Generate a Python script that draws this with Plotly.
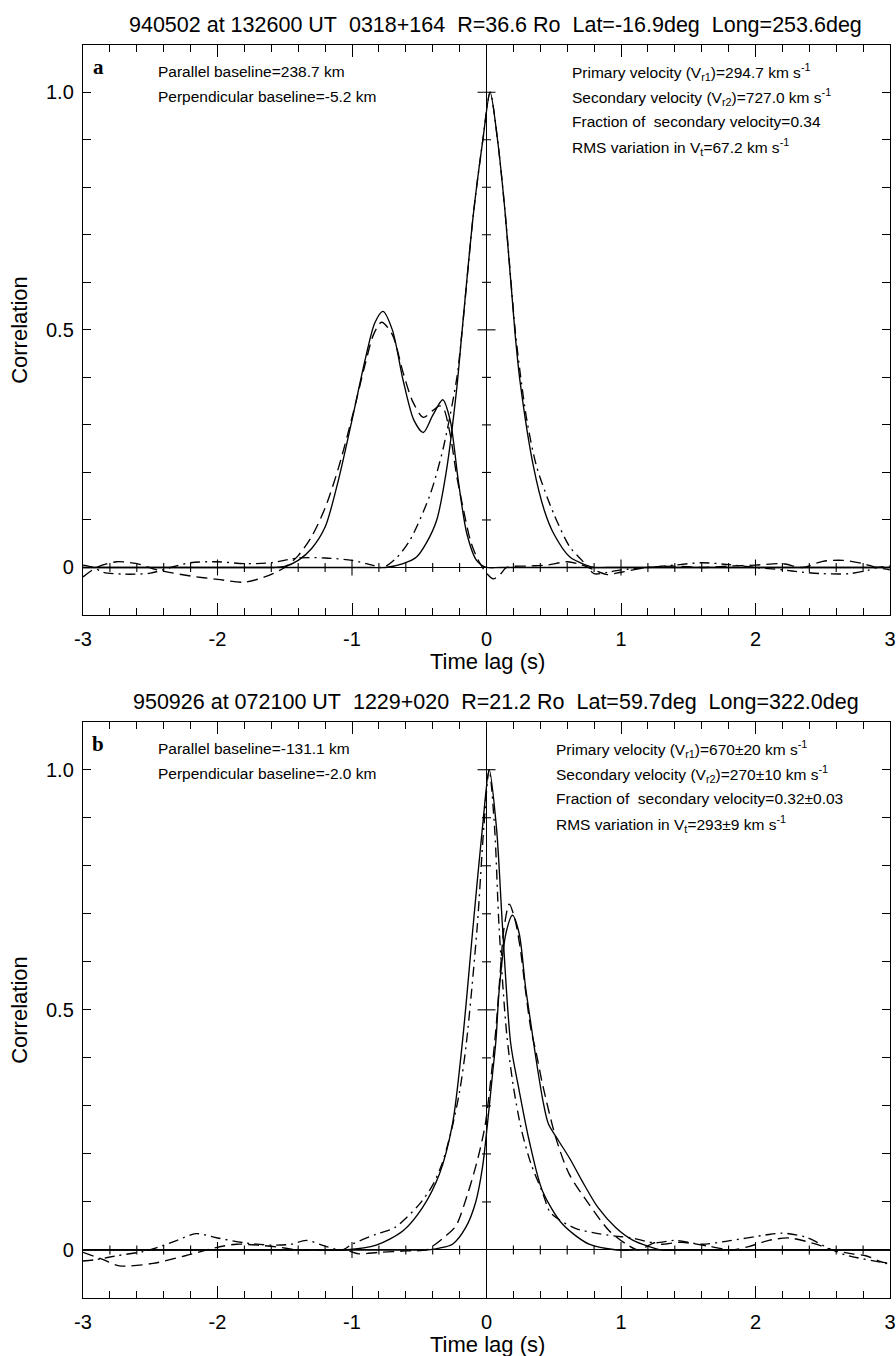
import numpy as np
import plotly.graph_objects as go

W, H = 896, 1356

# ---------------- Panel a data ----------------
a_cross_obs_x = [-3.0, -2.9, -2.75, -2.6, -2.45, -2.2, -2.0, -1.8, -1.65, -1.5, -1.4, -1.3, -1.2, -1.1, -1.0, -0.9,
                 -0.84, -0.78, -0.7, -0.62, -0.55, -0.47, -0.4, -0.35, -0.32, -0.27, -0.22, -0.17, -0.12, -0.07, -0.03,
                 0.0, 0.05, 0.1, 0.15, 0.3, 0.45, 0.6, 0.7, 0.8, 0.9, 1.0, 1.2, 1.4, 1.6, 1.8, 2.0, 2.2, 2.35, 2.5,
                 2.65, 2.8, 2.9, 3.0]
a_cross_obs_y = [-0.02, 0.0, 0.012, 0.008, -0.005, -0.018, -0.025, -0.031, -0.02, 0.0, 0.025, 0.065, 0.125, 0.21, 0.315,
                 0.43, 0.49, 0.516, 0.49, 0.41, 0.35, 0.316, 0.33, 0.34, 0.335, 0.28, 0.19, 0.12, 0.057, 0.02, 0.0,
                 -0.012, -0.024, -0.015, 0.0, 0.003, 0.005, 0.012, 0.006, -0.005, -0.015, -0.01, 0.0, 0.003, 0.0, 0.003,
                 0.005, 0.008, 0.0, 0.013, 0.015, 0.008, 0.0, -0.005]

a_cross_mod_x = [-3.0, -2.0, -1.7, -1.58, -1.5, -1.4, -1.3, -1.2, -1.1, -1.0, -0.9, -0.83, -0.77, -0.7, -0.62, -0.54,
                 -0.47, -0.4, -0.325, -0.27, -0.21, -0.146, -0.074, 0.0, 0.1, 0.3, 1.0, 2.0, 3.0]
a_cross_mod_y = [0.0, 0.0, 0.0, 0.0, 0.002, 0.015, 0.04, 0.085, 0.185, 0.31, 0.44, 0.515, 0.539, 0.5, 0.394, 0.31,
                 0.284, 0.32, 0.353, 0.31, 0.183, 0.071, 0.015, 0.0, 0.0, 0.0, 0.0, 0.0, 0.0]

a_auto_obs_x = [-3.0, -2.92, -2.85, -2.7, -2.5, -2.35, -2.2, -2.0, -1.8, -1.6, -1.4, -1.2, -1.0, -0.85, -0.77,
                -0.67, -0.57, -0.42, -0.32, -0.22, -0.184, -0.097, -0.027, 0.027, 0.082, 0.139, 0.213, 0.25, 0.3,
                0.374, 0.5, 0.62, 0.71, 0.8, 0.9, 1.0, 1.2, 1.4, 1.6, 1.8, 2.0, 2.2, 2.35, 2.5, 2.7, 2.85, 2.9, 3.0]
a_auto_obs_y = [0.005, 0.0, -0.01, -0.014, -0.012, 0.0, 0.01, 0.012, 0.008, 0.01, 0.02, 0.02, 0.015, 0.005, 0.0,
                0.02, 0.057, 0.153, 0.253, 0.40, 0.49, 0.745, 0.90, 1.0, 0.90, 0.745, 0.50, 0.41, 0.31,
                0.211, 0.113, 0.043, 0.015, -0.013, -0.01, -0.005, 0.0, 0.005, 0.01, 0.006, 0.0, -0.005, -0.01, -0.013,
                -0.013, -0.005, 0.0, 0.003]

a_auto_mod_x = [-3.0, -1.5, -1.0, -0.85, -0.75, -0.62, -0.52, -0.45, -0.37, -0.3, -0.22, -0.184, -0.097, -0.027, 0.027,
                0.082, 0.139, 0.213, 0.25, 0.35, 0.43, 0.5, 0.62, 0.74, 0.8, 0.9, 1.1, 2.0, 3.0]
a_auto_mod_y = [0.0, 0.0, 0.0, 0.0, 0.0, 0.008, 0.022, 0.05, 0.10, 0.20, 0.38, 0.49, 0.745, 0.90, 1.0,
                0.90, 0.745, 0.49, 0.39, 0.211, 0.12, 0.071, 0.022, 0.005, 0.0, 0.0, 0.0, 0.0, 0.0]

# ---------------- Panel b data ----------------
b_cross_obs_x = [-3.0, -2.85, -2.73, -2.48, -2.24, -2.01, -1.86, -1.7, -1.55, -1.4, -1.2, -1.05, -0.95, -0.8, -0.6,
                 -0.45, -0.38, -0.3, -0.228, -0.141, -0.062, -0.01, 0.03, 0.07, 0.1, 0.13, 0.169, 0.21, 0.25, 0.29,
                 0.33, 0.37, 0.416, 0.515, 0.615, 0.763, 0.912, 1.04, 1.13, 1.25, 1.3, 1.45, 1.65, 1.82, 1.95, 2.1,
                 2.25, 2.45, 2.57, 2.72, 2.82, 2.95, 3.0]
b_cross_obs_y = [-0.005, -0.02, -0.033, -0.028, -0.012, 0.005, 0.012, 0.01, 0.006, 0.0, 0.0, 0.0, -0.008, -0.005, -0.002,
                 0.0, 0.012, 0.03, 0.05, 0.116, 0.193, 0.26, 0.35, 0.46, 0.57, 0.67, 0.72, 0.69, 0.63, 0.54,
                 0.46, 0.41, 0.346, 0.234, 0.158, 0.095, 0.04, 0.012, 0.0, 0.015, 0.012, 0.016, 0.008, 0.0, 0.007, 0.02,
                 0.025, 0.012, 0.0, -0.008, -0.012, -0.026, -0.028]

b_cross_mod_x = [-3.0, -2.0, -1.0, -0.6, -0.45, -0.35, -0.253, -0.154, -0.08, -0.03, 0.007, 0.045, 0.07, 0.094, 0.144,
                 0.193, 0.243, 0.29, 0.33, 0.367, 0.42, 0.46, 0.535, 0.62, 0.71, 0.83, 0.96, 1.09, 1.2, 1.3, 1.5,
                 2.0, 3.0]
b_cross_mod_y = [0.0, 0.0, 0.0, 0.0, 0.0, 0.004, 0.012, 0.047, 0.10, 0.172, 0.262, 0.367, 0.436, 0.54, 0.659,
                 0.697, 0.659, 0.548, 0.471, 0.40, 0.31, 0.263, 0.228, 0.19, 0.144, 0.088, 0.047, 0.02, 0.008, 0.0, 0.0,
                 0.0, 0.0]

b_auto_obs_x = [-3.0, -2.9, -2.75, -2.55, -2.45, -2.3, -2.16, -2.0, -1.8, -1.6, -1.45, -1.34, -1.2, -1.07, -1.0,
                -0.82, -0.68, -0.5, -0.4, -0.33, -0.26, -0.2, -0.15, -0.07, -0.02, 0.02, 0.06, 0.094, 0.15, 0.2,
                0.26, 0.33, 0.416, 0.47, 0.53, 0.66, 0.81, 0.957, 1.08, 1.25, 1.4, 1.6, 1.8, 2.07, 2.2, 2.37, 2.57,
                2.69, 2.94, 3.0]
b_auto_obs_y = [-0.023, -0.02, -0.012, -0.003, 0.005, 0.02, 0.034, 0.025, 0.015, 0.01, 0.012, 0.02, 0.008, 0.0, 0.012,
                0.033, 0.047, 0.095, 0.135, 0.18, 0.25, 0.33, 0.43, 0.67, 0.88, 1.0, 0.88, 0.67, 0.45, 0.34,
                0.25, 0.18, 0.12, 0.08, 0.065, 0.045, 0.035, 0.029, 0.025, 0.015, 0.02, 0.012, 0.019, 0.031, 0.035, 0.027,
                0.0, -0.012, -0.026, -0.03]

b_auto_mod_x = [-3.0, -2.0, -1.3, -1.05, -0.82, -0.62, -0.476, -0.35, -0.253, -0.178, -0.10, -0.03, 0.02, 0.074, 0.119,
                0.18, 0.243, 0.317, 0.416, 0.565, 0.763, 0.97, 1.2, 2.0, 3.0]
b_auto_mod_y = [0.0, 0.0, 0.0, 0.0, 0.01, 0.04, 0.088, 0.158, 0.262, 0.436, 0.673, 0.88, 1.0, 0.88, 0.673,
                0.43, 0.332, 0.228, 0.123, 0.054, 0.012, 0.0, 0.0, 0.0, 0.0]

# ---------------- Texts ----------------
NB = "\u00a0"
title_a = f"940502 at 132600 UT{NB*2}0318+164{NB*2}R=36.6{NB}Ro{NB*2}Lat=-16.9deg{NB*2}Long=253.6deg"
title_b = f"950926 at 072100 UT{NB*2}1229+020{NB*2}R=21.2{NB}Ro{NB*2}Lat=59.7deg{NB*2}Long=322.0deg"
left_a = ["Parallel baseline=238.7 km", "Perpendicular baseline=-5.2 km"]
right_a = ["Primary velocity (V<sub>r1</sub>)=294.7 km s<sup>-1</sup>",
           "Secondary velocity (V<sub>r2</sub>)=727.0 km s<sup>-1</sup>",
           f"Fraction of {NB}secondary velocity=0.34",
           "RMS variation in V<sub>t</sub>=67.2 km s<sup>-1</sup>"]
left_b = ["Parallel baseline=-131.1 km", "Perpendicular baseline=-2.0 km"]
right_b = ["Primary velocity (V<sub>r1</sub>)=670±20 km s<sup>-1</sup>",
           "Secondary velocity (V<sub>r2</sub>)=270±10 km s<sup>-1</sup>",
           f"Fraction of {NB}secondary velocity=0.32±0.03",
           "RMS variation in V<sub>t</sub>=293±9 km s<sup>-1</sup>"]

x_tickvals = [-3, -2, -1, 0, 1, 2, 3]
x_ticktext = ["-3", "-2", "-1", "0", "1", "2", "3"]
y_tickvals = [0, 0.5, 1.0]
y_ticktext = ["0", "0.5", "1.0"]

# ---------------- Layout geometry (pixels) ----------------
X0, X1 = 83, 890
panels = {"a": (44.7, 615.0), "b": (721.7, 1298.0)}

def fx(px):
    return px / W

def fy(py):
    return 1 - py / H

FONT = "Liberation Sans, Arial, sans-serif"
fig = go.Figure()

LW = 1.35
dash_style = "11px,6px"
dashdot_style = "10px,5px,2px,5px"

sets = [
    ("x", "y", a_cross_obs_x, a_cross_obs_y, a_cross_mod_x, a_cross_mod_y,
     a_auto_obs_x, a_auto_obs_y, a_auto_mod_x, a_auto_mod_y),
    ("x2", "y2", b_cross_obs_x, b_cross_obs_y, b_cross_mod_x, b_cross_mod_y,
     b_auto_obs_x, b_auto_obs_y, b_auto_mod_x, b_auto_mod_y),
]
for xa, ya, cox, coy, cmx, cmy, aox, aoy, amx, amy in sets:
    for xs, ys, dash in [(cmx, cmy, "solid"), (amx, amy, "solid"),
                         (cox, coy, dash_style), (aox, aoy, dashdot_style)]:
        fig.add_trace(go.Scatter(x=xs, y=ys, mode="lines", xaxis=xa, yaxis=ya,
                                 line=dict(color="black", width=LW, dash=dash,
                                           shape="spline", smoothing=0.8),
                                 showlegend=False, hoverinfo="skip"))

axis_common = dict(showgrid=False, showline=True, linecolor="black", linewidth=1.4,
                   mirror="ticks", ticks="inside", tickcolor="black",
                   zeroline=True, zerolinecolor="black", zerolinewidth=1.2,
                   tickfont=dict(family=FONT, size=20, color="black"))

layout = dict(width=W, height=H, paper_bgcolor="white", plot_bgcolor="white",
              margin=dict(l=0, r=0, t=0, b=0, autoexpand=False), showlegend=False)
for i, key in enumerate(["a", "b"]):
    top, bot = panels[key]
    sfx = "" if i == 0 else "2"
    layout["xaxis" + sfx] = dict(axis_common, domain=[fx(X0), fx(X1)], range=[-3, 3],
                                 anchor="y" + sfx, tickvals=x_tickvals, ticktext=x_ticktext,
                                 ticklen=12, tickwidth=1.2, ticklabelstandoff=6,
                                 minor=dict(dtick=0.2, ticks="inside", ticklen=7, tickwidth=1.1, tickcolor="black"))
    layout["yaxis" + sfx] = dict(axis_common, domain=[fy(bot), fy(top)], range=[-0.1, 1.1],
                                 anchor="x" + sfx, tickvals=y_tickvals, ticktext=y_ticktext,
                                 ticklen=8, tickwidth=1.2, ticklabelstandoff=4,
                                 minor=dict(dtick=0.1, ticks="inside", ticklen=8, tickwidth=1.1, tickcolor="black"))
fig.update_layout(**layout)

# crossing ticks along zero lines
shapes = []
for sfx in ["", "2"]:
    for t in np.round(np.arange(-2.8, 3.0, 0.2), 1):
        if abs(t) < 1e-9:
            continue
        L = 8 if abs(t - round(t)) < 1e-9 else 4.5
        shapes.append(dict(type="line", xref="x" + sfx, yref="y" + sfx, x0=t, x1=t,
                           ysizemode="pixel", yanchor=0, y0=-L, y1=L,
                           line=dict(color="black", width=1.1)))
    for t in np.round(np.arange(0.1, 1.05, 0.1), 1):
        L = 9 if abs(t * 2 - round(t * 2)) < 1e-9 else 4.5
        shapes.append(dict(type="line", xref="x" + sfx, yref="y" + sfx, y0=t, y1=t,
                           xsizemode="pixel", xanchor=0, x0=-L, x1=L,
                           line=dict(color="black", width=1.1)))
fig.update_layout(shapes=shapes)

ann = []
def text(px, py, s, size, anchor="left", family=FONT, **kw):
    ann.append(dict(x=fx(px), y=fy(py), xref="paper", yref="paper", text=s, showarrow=False,
                    xanchor=anchor, yanchor="middle",
                    font=dict(family=family, size=size, color="black"), **kw))

for key, title, letter, ltxt, rtxt, rx in [("a", title_a, "a", left_a, right_a, 570),
                                           ("b", title_b, "b", left_b, right_b, 554)]:
    top, bot = panels[key]
    text((X0 + X1) / 2 + 9, top - 20, title, 21.5, anchor="center")
    text(98, top + 22, "<b>" + letter + "</b>", 21, anchor="center",
         family="Liberation Serif, Times New Roman, serif")
    for j, s in enumerate(ltxt):
        text(156, top + 27 + 25 * j, s, 15.5)
    for j, s in enumerate(rtxt):
        text(rx, top + 27 + 25 * j, s, 15.5)
    text((X0 + X1) / 2 + 1, bot + 46, "Time lag (s)", 22, anchor="center")
    text(20, (top + bot) / 2, "Correlation", 22, anchor="center", textangle=-90)
fig.update_layout(annotations=ann)

fig.write_html("out.html", config={"displayModeBar": False},
               post_script="document.body.style.margin='0px';")
